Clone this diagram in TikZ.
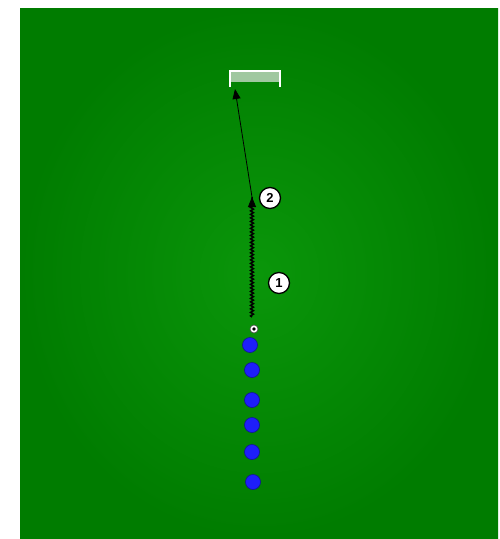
\documentclass[tikz,border=0pt]{standalone}
\usepackage{fontspec}
\setsansfont{Liberation Sans}
\usepackage{tikz}
\usepackage{xcolor}
\usetikzlibrary{arrows.meta, decorations.pathmorphing, shadings}

\definecolor{pitchin}{RGB}{10,150,10}
\definecolor{pitchout}{RGB}{0,124,0}
\definecolor{netgrey}{RGB}{160,200,160}
\definecolor{playerblue}{RGB}{30,30,250}

\tikzset{
  player/.style={circle, minimum size=15pt, inner sep=0pt, fill=playerblue, draw=playerblue!60!black, line width=0.6pt},
  numtag/.style={circle, draw=black, line width=1.3pt, fill=white, minimum size=21pt, inner sep=0pt, font=\sffamily\bfseries\fontsize{13}{13}\selectfont},
  dribble/.style={line width=1.5pt, decorate, decoration={snake, amplitude=1.4pt, segment length=3.5pt, post length=6pt}},
  shot/.style={line width=0.8pt, -{Triangle[length=10pt,width=8pt]}}
}

\begin{document}
\begin{tikzpicture}[x=1pt, y=-1pt]
  \useasboundingbox (0,0) rectangle (500,539);
  % Pitch
  \shade[inner color=pitchin, outer color=pitchout] (20,8) rectangle (498,539);
  % Goal
  \fill[netgrey] (231,72) rectangle (279,82);
  \draw[white, line width=1.6pt] (230,87) -- (230,71) -- (280,71) -- (280,87);
  \coordinate (goal) at (235,89);
  % Players
  \node[player] (p1) at (250,345) {};
  \node[player] (p2) at (252,370) {};
  \node[player] (p3) at (252,400) {};
  \node[player] (p4) at (252,425) {};
  \node[player] (p5) at (252,452) {};
  \node[player] (p6) at (253,482) {};
  % Ball
  \node[circle, draw=black!70, line width=0.6pt, fill=white, minimum size=8pt, inner sep=0pt] (ball) at (254,329) {};
  \fill[black] (ball.center) circle (1.8pt);
  % Dribble then shot
  \coordinate (dribstart) at (252,317);
  \coordinate (dribend) at (252,197);
  \draw[dribble] (dribstart) -- (dribend);
  \draw[shot] (252,206) -- (dribend);
  \draw[shot] (dribend) -- (goal);
  % Step numbers
  \node[numtag] (n1) at (279,283) {1};
  \node[numtag] (n2) at (270,198) {2};
\end{tikzpicture}
\end{document}
